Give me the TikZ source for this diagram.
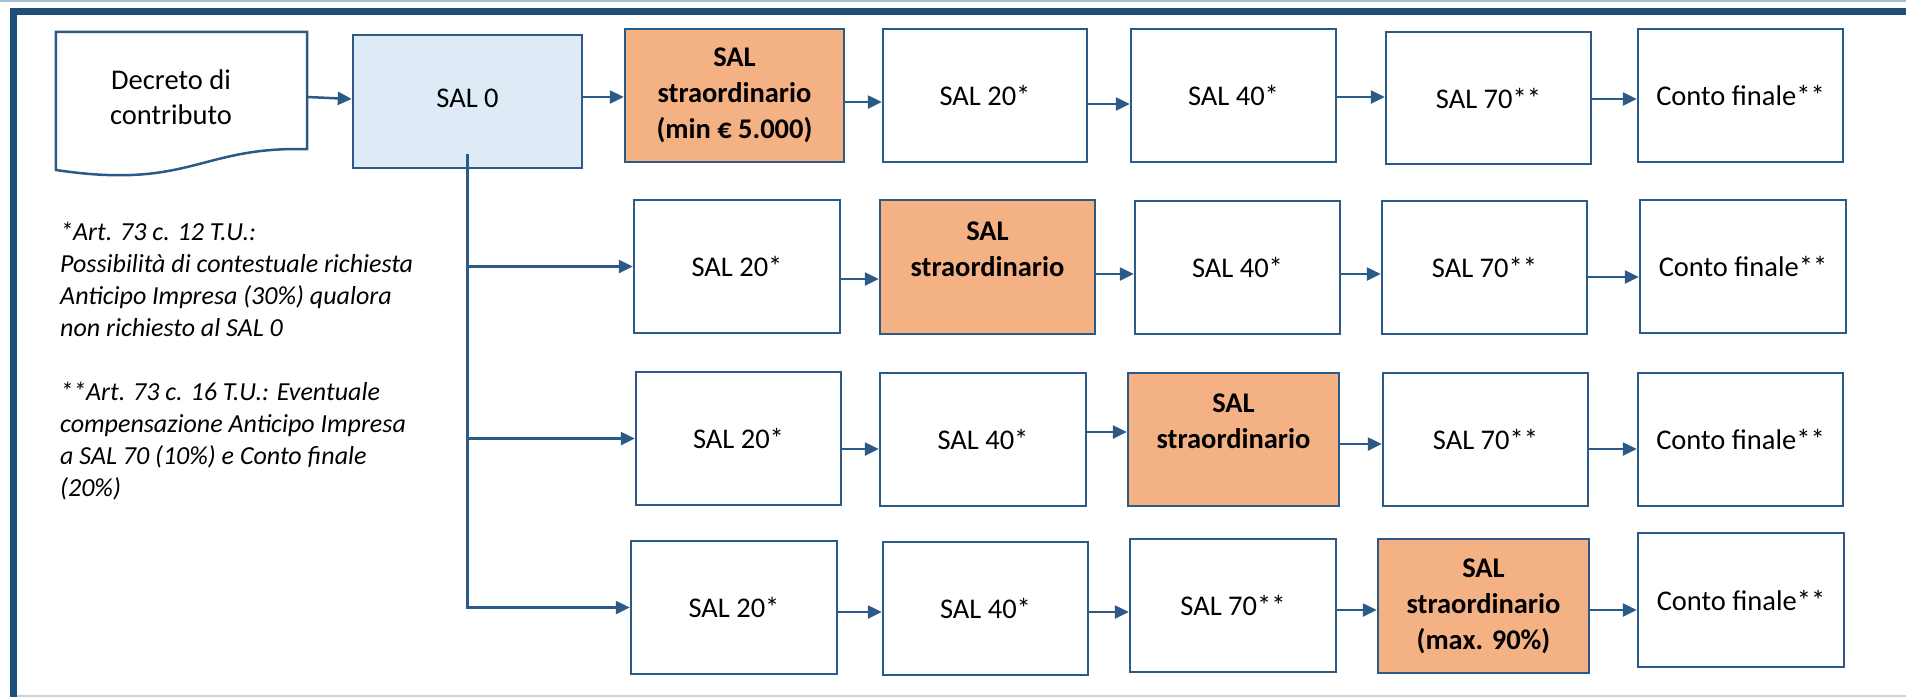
\documentclass[tikz,border=0pt]{standalone}
\usepackage{fontspec}
\setmainfont{Carlito}
\usetikzlibrary{arrows.meta}
\definecolor{frameblue}{HTML}{1F4E79}
\definecolor{boxblue}{HTML}{2C5A87}
\definecolor{salfill}{HTML}{DEEBF7}
\definecolor{orangefill}{HTML}{F4B183}
\definecolor{lightline}{HTML}{A9BCD0}
\definecolor{lightbottom}{HTML}{C9D3DC}
\newcommand\mybox[7]{\node[#1, minimum width={(#5-#3)*1pt}, minimum height={(#6-#4)*1pt}] (#2) at ({(#3+#5)/2},{(#4+#6)/2}) {#7};}
\begin{document}
\begin{tikzpicture}[x=1pt,y=-1pt,
 box/.style={draw=boxblue, line width=2.5pt, fill=white, inner sep=0pt, align=center, font=\fontsize{28.5}{35}\selectfont},
 sbox/.style={box, fill=salfill},
 hbox/.style={box, fill=orangefill, font=\fontsize{28.5}{36}\selectfont\bfseries},
 arr/.style={draw=boxblue, line width=2.5pt, -{Triangle[length=14pt,width=13pt]}},
 note/.style={anchor=north west, inner sep=0pt, align=left, font=\fontsize{26}{32}\selectfont\itshape},
]
\useasboundingbox (0,0) rectangle (1906,697);
% frame
\draw[lightline, line width=1.5pt] (0,0.75) -- (1906,0.75);
\draw[lightbottom, line width=1.5pt] (13,696) -- (1906,696);
\draw[frameblue, line width=7.5pt] (13.3,697) -- (13.3,11.3) -- (1906,11.3);

% document shape
\node[minimum width=251pt, minimum height=117pt, inner sep=0pt] (dec) at (181.5,90.5) {};
\draw[boxblue, line width=2.5pt, fill=white] (dec.north west) -- (dec.north east) -- (dec.south east)
  .. controls (200,146) and (190,190) .. (56,170) -- cycle;
\node[inner sep=0pt, align=center, font=\fontsize{28.5}{35}\selectfont] (dectext) at (171,97) {Decreto di\\contributo};

% row 1
\mybox{sbox}{s0}{353}{35}{582}{168}{\raisebox{6pt}{SAL 0}}
\mybox{hbox}{r1a}{625}{29}{844}{162}{SAL\\straordinario\\(min € 5.000)}
\mybox{box}{r1b}{883}{29}{1087}{162}{SAL 20*}
\mybox{box}{r1c}{1131}{29}{1336}{162}{SAL 40*}
\mybox{box}{r1d}{1386}{32}{1591}{164}{SAL 70**}
\mybox{box}{r1e}{1638}{29}{1843}{162}{Conto finale**}
% row 2
\mybox{box}{r2a}{634}{200}{840}{333}{SAL 20*}
\mybox{hbox}{r2b}{880}{200}{1095}{334}{SAL\\straordinario\\\mbox{}}
\mybox{box}{r2c}{1135}{201}{1340}{334}{SAL 40*}
\mybox{box}{r2d}{1382}{201}{1587}{334}{SAL 70**}
\mybox{box}{r2e}{1640}{200}{1846}{333}{Conto finale**}
% row 3
\mybox{box}{r3a}{636}{372}{841}{505}{SAL 20*}
\mybox{box}{r3b}{880}{373}{1086}{506}{SAL 40*}
\mybox{hbox}{r3c}{1128}{373}{1339}{506}{SAL\\straordinario\\\mbox{}}
\mybox{box}{r3d}{1383}{373}{1588}{506}{SAL 70**}
\mybox{box}{r3e}{1638}{373}{1843}{506}{Conto finale**}
% row 4
\mybox{box}{r4a}{631}{541}{837}{674}{SAL 20*}
\mybox{box}{r4b}{883}{542}{1088}{675}{SAL 40*}
\mybox{box}{r4c}{1130}{539}{1336}{672}{SAL 70**}
\mybox{hbox}{r4d}{1378}{539}{1589}{673}{SAL\\straordinario\\(max. 90\%)}
\mybox{box}{r4e}{1638}{533}{1844}{667}{Conto finale**}

% notes
\node[note] (notes) at (60,222) {*Art. 73 c. 12 T.U.:\\Possibilità di contestuale richiesta\\Anticipo Impresa (30\%) qualora\\non richiesto al SAL 0\\[32pt]**Art. 73 c. 16 T.U.: Eventuale\\compensazione Anticipo Impresa\\a SAL 70 (10\%) e Conto finale\\(20\%)};

% connectors row 1
\draw[arr] (dec.east |- 0,97) -- (s0.west |- 0,99);
\draw[arr] (s0.east |- 0,97) -- (r1a.west |- 0,97);
\draw[arr] (r1a.east |- 0,102) -- (r1b.west |- 0,102);
\draw[arr] (r1b.east |- 0,104) -- (r1c.west |- 0,104);
\draw[arr] (r1c.east |- 0,97) -- (r1d.west |- 0,97);
\draw[arr] (r1d.east |- 0,99) -- (r1e.west |- 0,99);
% row 2
\draw[arr] (r2a.east |- 0,279) -- (r2b.west |- 0,279);
\draw[arr] (r2b.east |- 0,274) -- (r2c.west |- 0,274);
\draw[arr] (r2c.east |- 0,274) -- (r2d.west |- 0,274);
\draw[arr] (r2d.east |- 0,277) -- (r2e.west |- 0,277);
% row 3
\draw[arr] (r3a.east |- 0,449) -- (r3b.west |- 0,449);
\draw[arr] (r3b.east |- 0,432) -- (r3c.west |- 0,432);
\draw[arr] (r3c.east |- 0,444) -- (r3d.west |- 0,444);
\draw[arr] (r3d.east |- 0,449) -- (r3e.west |- 0,449);
% row 4
\draw[arr] (r4a.east |- 0,612) -- (r4b.west |- 0,612);
\draw[arr] (r4b.east |- 0,612) -- (r4c.west |- 0,612);
\draw[arr] (r4c.east |- 0,610) -- (r4d.west |- 0,610);
\draw[arr] (r4d.east |- 0,610) -- (r4e.west |- 0,610);

% branches from SAL 0
\coordinate (trunk) at ([yshift=15pt]s0.south);
\draw[arr] (trunk) |- (r2a.west);
\draw[arr] (trunk) |- (r3a.west);
\draw[arr] (trunk) |- (r4a.west);
\end{tikzpicture}
\end{document}
